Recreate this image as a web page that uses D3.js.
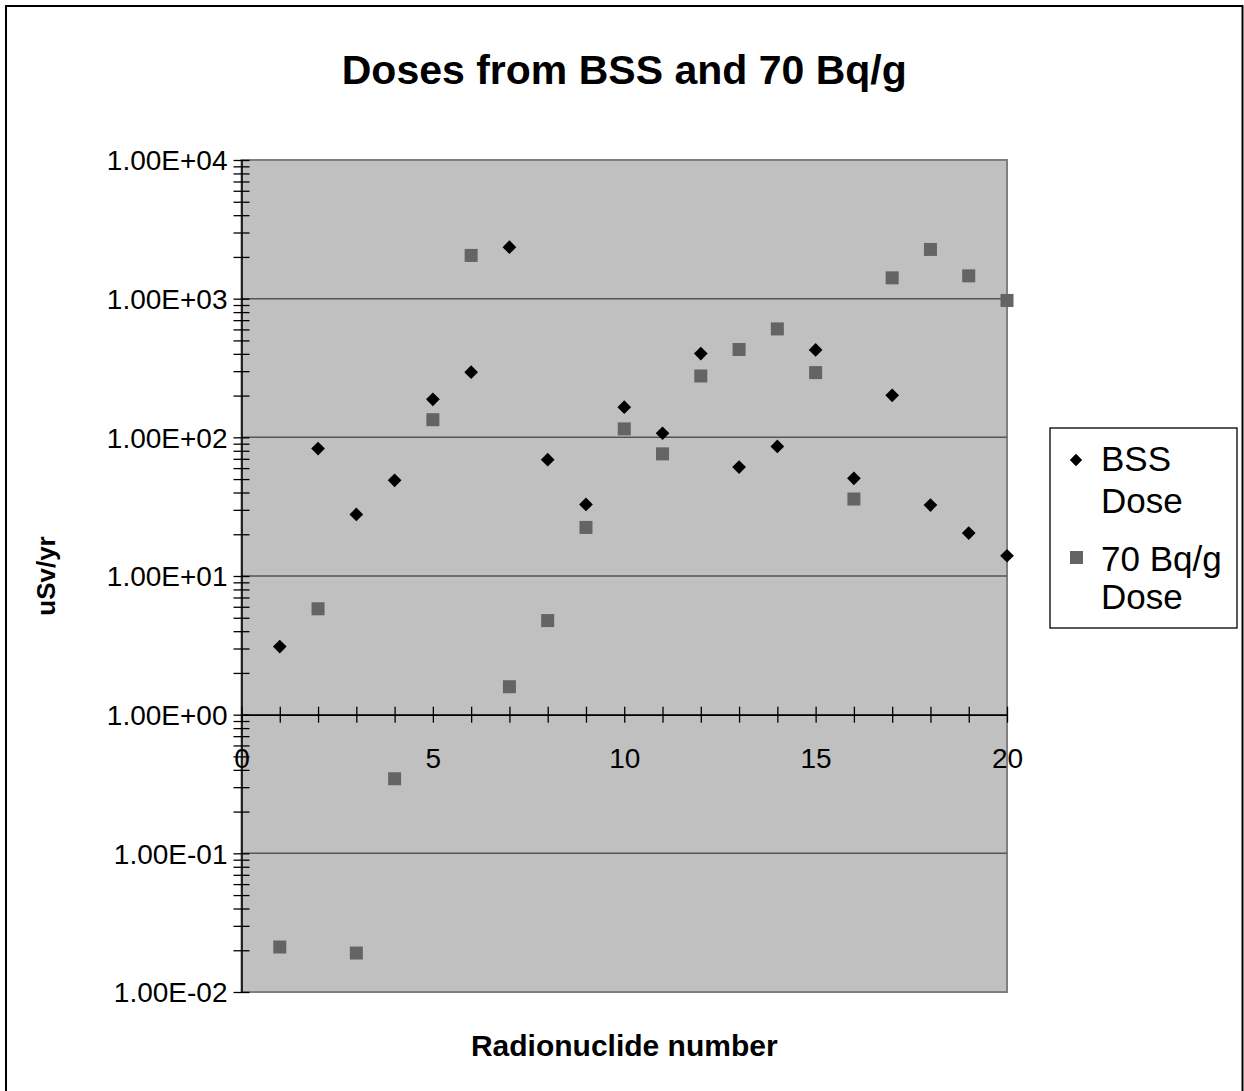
<!DOCTYPE html>
<html>
<head>
<meta charset="utf-8">
<script src="https://cdn.jsdelivr.net/npm/d3@7"></script>
<style>
  body { margin: 0; background: #fff; }
  text { font-family: "Liberation Sans", Arial, sans-serif; }
</style>
</head>
<body>
<svg id="chart" width="1244" height="1091"></svg>
<script>
var nuclides = d3.range(1, 21);
var bssDose = [3.1, 83, 27.8, 49, 188, 295, 2350, 69, 32.8, 165,
               107, 402, 61, 86, 427, 50.6, 201, 32.5, 20.4, 14];
var bqDose = [0.0211, 5.8, 0.0191, 0.345, 134, 2050, 1.59, 4.77, 22.4, 115,
              76, 277, 430, 605, 293, 35.9, 1413, 2265, 1461, 971];
var xTicks = [0, 5, 10, 15, 20];
var yTicks = [1e-2, 1e-1, 1e0, 1e1, 1e2, 1e3, 1e4];

var svg = d3.select("#chart");

// рамка всей диаграммы
svg.append("rect")
    .attr("x", 6).attr("y", 6).attr("width", 1236.5).attr("height", 1100)
    .attr("fill", "#fff").attr("stroke", "#000").attr("stroke-width", 2);

var plotL = 241.5, plotR = 1007, plotT = 160, plotB = 992;

var x = d3.scaleLinear().domain([0, 20]).range([plotL, plotR]);
var y = d3.scaleLog().domain([1e-2, 1e4]).range([plotB, plotT]);

// фон области построения
svg.append("rect")
    .attr("x", plotL).attr("y", plotT)
    .attr("width", plotR - plotL).attr("height", plotB - plotT)
    .attr("fill", "#c0c0c0").attr("stroke", "#808080").attr("stroke-width", 2);

// сетка по декадам
svg.append("g").selectAll("line")
    .data(yTicks.slice(1, -1))
  .enter().append("line")
    .attr("x1", plotL).attr("x2", plotR)
    .attr("y1", function (d) { return y(d); })
    .attr("y2", function (d) { return y(d); })
    .attr("stroke", "#555").attr("stroke-width", 1.5);

function fmtE(d) {
    var e = Math.round(Math.log10(d));
    var m = d / Math.pow(10, e);
    var s = e < 0 ? "-" : "+";
    var a = Math.abs(e);
    return m.toFixed(2) + "E" + s + (a < 10 ? "0" + a : a);
}

// ось Y: все лог-деления, подписи только на декадах
var yAxis = d3.axisLeft(y)
    .tickValues(y.ticks())
    .tickSizeInner(-8).tickSizeOuter(0)
    .tickFormat(function (d) {
        return yTicks.some(function (t) { return Math.abs(t - d) / t < 1e-9; }) ? fmtE(d) : "";
    });

var gy = svg.append("g")
    .attr("transform", "translate(" + plotL + ",0)")
    .call(yAxis);
gy.select(".domain").attr("stroke", "#000").attr("stroke-width", 1.5);
gy.selectAll(".tick line")
    .attr("x1", -8).attr("x2", 8)
    .attr("stroke", "#000").attr("stroke-width", 1.3);
gy.selectAll(".tick text")
    .attr("x", -14).attr("dy", "0.35em")
    .style("font-size", "28px").attr("fill", "#000");

// ось X пересекает Y в 1
var xAxis = d3.axisBottom(x)
    .tickValues(d3.range(0, 21))
    .tickSizeInner(8).tickSizeOuter(0)
    .tickFormat(function (d) { return xTicks.indexOf(d) >= 0 ? d : ""; });

var gx = svg.append("g")
    .attr("transform", "translate(0," + y(1) + ")")
    .call(xAxis);
gx.select(".domain").attr("stroke", "#000").attr("stroke-width", 1.5);
gx.selectAll(".tick line")
    .attr("y1", -8).attr("y2", 8)
    .attr("stroke", "#000").attr("stroke-width", 1.3);
gx.selectAll(".tick text")
    .attr("y", 44).attr("dy", "0.35em")
    .style("font-size", "28px").attr("fill", "#000");

// точки
var diamond = d3.symbol().type(d3.symbolDiamond2).size(120);

svg.append("g").selectAll("rect")
    .data(bqDose)
  .enter().append("rect")
    .attr("x", function (d, i) { return x(nuclides[i]) - 6.5; })
    .attr("y", function (d) { return y(d) - 6.5; })
    .attr("width", 13).attr("height", 13)
    .attr("fill", "#646464");

svg.append("g").selectAll("path")
    .data(bssDose)
  .enter().append("path")
    .attr("d", diamond)
    .attr("transform", function (d, i) {
        return "translate(" + x(nuclides[i]) + "," + y(d) + ")";
    })
    .attr("fill", "#000");

// подписи
svg.append("text")
    .attr("x", (plotL + plotR) / 2).attr("y", 84)
    .attr("text-anchor", "middle")
    .style("font-size", "41px").style("font-weight", "bold")
    .text("Doses from BSS and 70 Bq/g");

svg.append("text")
    .attr("x", (plotL + plotR) / 2).attr("y", 1056)
    .attr("text-anchor", "middle")
    .style("font-size", "30px").style("font-weight", "bold")
    .text("Radionuclide number");

svg.append("text")
    .attr("transform", "translate(55," + (plotT + plotB) / 2 + ") rotate(-90)")
    .attr("text-anchor", "middle")
    .style("font-size", "26px").style("font-weight", "bold")
    .text("uSv/yr");

// легенда
var lg = svg.append("g");
lg.append("rect")
    .attr("x", 1050).attr("y", 428).attr("width", 187).attr("height", 200)
    .attr("fill", "#fff").attr("stroke", "#000").attr("stroke-width", 1.3);

lg.append("path")
    .attr("d", d3.symbol().type(d3.symbolDiamond2).size(98))
    .attr("transform", "translate(1076,460)")
    .attr("fill", "#000");
lg.append("rect")
    .attr("x", 1070).attr("y", 551).attr("width", 13).attr("height", 13)
    .attr("fill", "#646464");

var legendLines = [["BSS", 471], ["Dose", 513], ["70 Bq/g", 571], ["Dose", 609]];
lg.selectAll("text")
    .data(legendLines)
  .enter().append("text")
    .attr("x", 1101).attr("y", function (d) { return d[1]; })
    .style("font-size", "35px")
    .text(function (d) { return d[0]; });
</script>
</body>
</html>
